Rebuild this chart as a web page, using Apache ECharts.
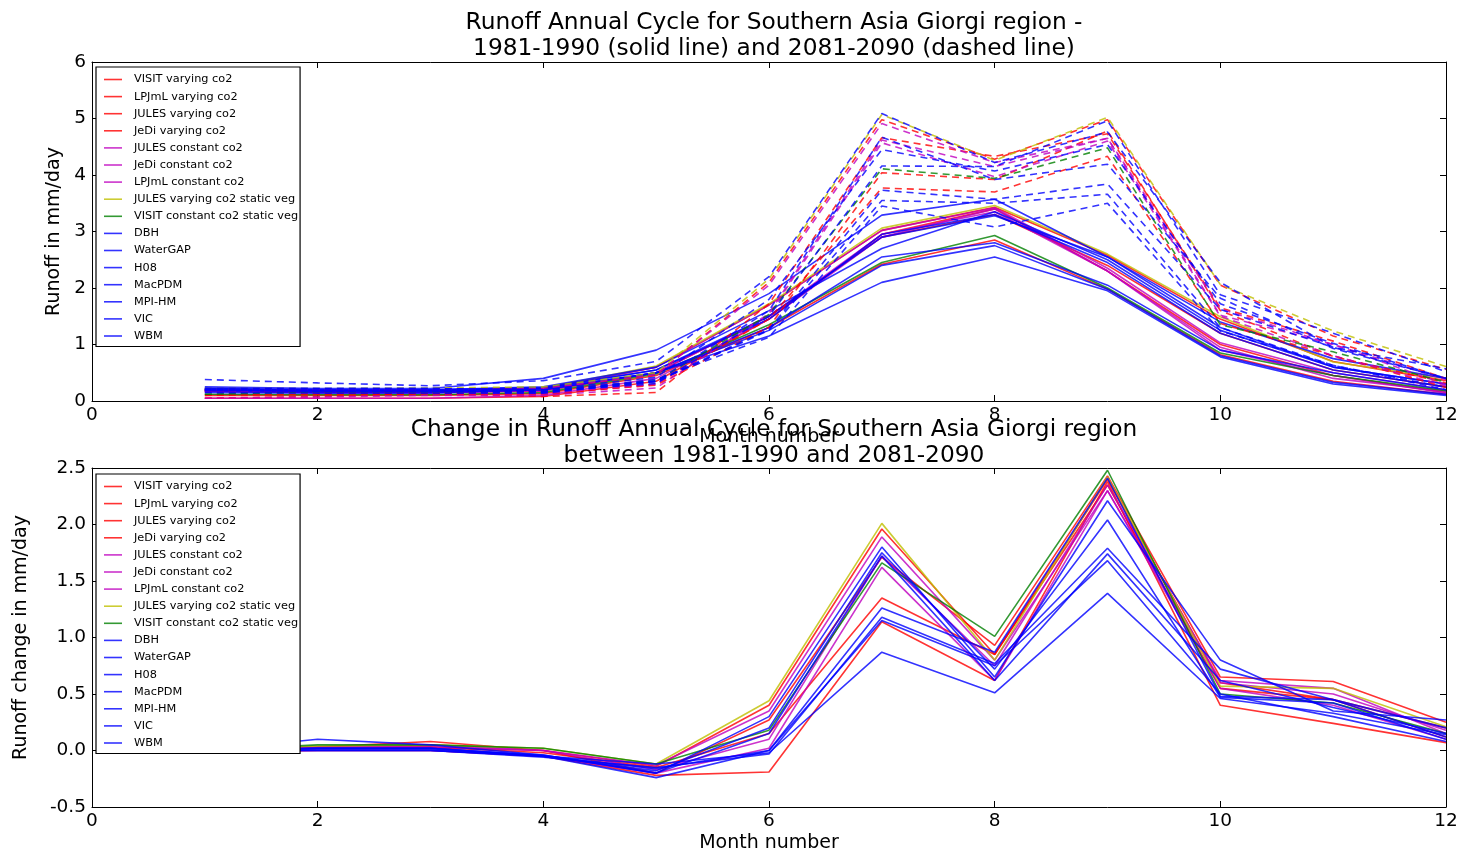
<!DOCTYPE html>
<html><head><meta charset="utf-8">
<script src="https://cdn.jsdelivr.net/npm/echarts@6/dist/echarts.min.js"></script>
<style>html,body{margin:0;padding:0;background:#fff}#c{width:1467px;height:854px}</style>
</head><body><div id="c"></div>
<script>
const months = [1,2,3,4,5,6,7,8,9,10,11,12];
const names = ["VISIT varying co2","LPJmL varying co2","JULES varying co2","JeDi varying co2",
  "JULES constant co2","JeDi constant co2","LPJmL constant co2","JULES varying co2 static veg",
  "VISIT constant co2 static veg","DBH","WaterGAP","H08","MacPDM","MPI-HM","VIC","WBM"];
const colors = ["#ff0000","#ff0000","#ff0000","#ff0000","#bf00bf","#bf00bf","#bf00bf","#bfbf00","#008000",
  "#0000ff","#0000ff","#0000ff","#0000ff","#0000ff","#0000ff","#0000ff"];
const xTicks = [0,2,4,6,8,10,12];
const yTicksTop = [0,1,2,3,4,5,6];
const yTicksBottom = [-0.5,0.0,0.5,1.0,1.5,2.0,2.5];

// 1981-1990 runoff (mm/day), solid lines
const past = [
  [0.10,0.10,0.10,0.13,0.45,1.30,2.42,2.85,1.98,0.82,0.35,0.12],
  [0.05,0.05,0.05,0.08,0.35,1.45,2.95,3.40,2.30,1.00,0.45,0.15],
  [0.20,0.17,0.17,0.22,0.60,1.70,3.02,3.43,2.58,1.45,0.70,0.36],
  [0.18,0.15,0.15,0.18,0.50,1.50,2.90,3.30,2.40,1.20,0.55,0.25],
  [0.20,0.17,0.17,0.22,0.60,1.70,3.02,3.42,2.35,1.03,0.50,0.20],
  [0.18,0.15,0.15,0.18,0.50,1.50,2.95,3.35,2.30,0.95,0.40,0.17],
  [0.05,0.05,0.05,0.10,0.40,1.45,2.90,3.40,2.30,0.90,0.45,0.14],
  [0.22,0.18,0.18,0.23,0.62,1.72,3.06,3.46,2.60,1.49,0.69,0.40],
  [0.12,0.11,0.11,0.15,0.48,1.35,2.45,2.93,2.00,0.85,0.45,0.18],
  [0.25,0.22,0.22,0.40,0.90,1.90,3.29,3.57,2.55,1.30,0.60,0.30],
  [0.20,0.18,0.18,0.22,0.55,1.50,2.90,3.28,2.55,1.40,0.75,0.40],
  [0.22,0.20,0.20,0.25,0.60,1.60,2.70,3.35,2.50,1.25,0.60,0.30],
  [0.15,0.14,0.14,0.20,0.50,1.30,2.55,2.80,2.05,0.90,0.50,0.20],
  [0.18,0.16,0.16,0.20,0.50,1.25,2.40,2.75,1.98,0.80,0.33,0.12],
  [0.20,0.18,0.18,0.22,0.50,1.15,2.10,2.55,1.95,0.78,0.30,0.10],
  [0.22,0.20,0.20,0.24,0.55,1.45,2.95,3.30,2.45,1.20,0.55,0.25]
];
// 2081-2090 runoff (mm/day), dashed lines
const future = [
  [0.10,0.12,0.13,0.11,0.30,1.45,3.77,3.70,4.33,1.37,0.80,0.24],
  [0.05,0.08,0.13,0.08,0.15,1.72,4.66,4.33,4.73,1.65,1.06,0.40],
  [0.20,0.20,0.20,0.22,0.46,2.10,4.98,4.28,4.98,2.05,1.15,0.56],
  [0.17,0.15,0.15,0.13,0.28,1.31,4.04,3.92,4.78,1.60,0.79,0.32],
  [0.20,0.20,0.20,0.22,0.47,2.05,4.91,4.22,4.65,1.63,1.00,0.38],
  [0.17,0.15,0.15,0.13,0.30,1.52,4.57,3.97,4.60,1.50,0.80,0.27],
  [0.05,0.07,0.10,0.10,0.23,1.55,4.62,4.15,4.65,1.52,1.00,0.29],
  [0.22,0.22,0.23,0.25,0.50,2.16,5.07,4.26,5.02,2.06,1.24,0.61],
  [0.12,0.16,0.16,0.17,0.36,1.53,4.11,3.94,4.48,1.35,0.87,0.33],
  [0.38,0.32,0.27,0.36,0.70,2.20,5.09,4.22,4.76,2.10,0.95,0.57],
  [0.20,0.20,0.20,0.17,0.31,1.50,4.16,4.15,4.96,1.88,1.20,0.52],
  [0.22,0.22,0.22,0.20,0.42,1.80,4.45,4.07,4.54,1.72,1.02,0.40],
  [0.15,0.14,0.14,0.14,0.35,1.27,3.73,3.57,3.84,1.62,0.95,0.40],
  [0.18,0.17,0.17,0.15,0.34,1.25,3.55,3.50,3.66,1.30,0.63,0.20],
  [0.20,0.18,0.18,0.17,0.38,1.13,3.45,3.08,3.50,1.24,0.63,0.24],
  [0.22,0.22,0.22,0.20,0.35,1.60,4.67,3.92,4.19,1.82,0.93,0.40]
];
// change 2081-2090 minus 1981-1990 (mm/day)
const change = [
  [0.00,0.02,0.03,-0.02,-0.15,0.15,1.35,0.85,2.35,0.55,0.45,0.12],
  [0.00,0.03,0.08,0.00,-0.20,0.27,1.71,0.93,2.43,0.65,0.61,0.25],
  [0.00,0.03,0.03,0.00,-0.14,0.40,1.96,0.85,2.40,0.60,0.45,0.20],
  [-0.01,0.00,0.00,-0.05,-0.22,-0.19,1.14,0.62,2.38,0.40,0.24,0.07],
  [0.00,0.03,0.03,0.00,-0.13,0.35,1.89,0.80,2.30,0.60,0.50,0.18],
  [-0.01,0.00,0.00,-0.05,-0.20,0.02,1.62,0.62,2.30,0.55,0.40,0.10],
  [0.00,0.02,0.05,0.00,-0.17,0.10,1.72,0.75,2.35,0.62,0.55,0.15],
  [0.00,0.04,0.05,0.02,-0.12,0.44,2.01,0.80,2.42,0.57,0.55,0.21],
  [0.00,0.05,0.05,0.02,-0.12,0.18,1.66,1.01,2.48,0.50,0.42,0.15],
  [0.00,0.10,0.05,-0.04,-0.20,0.30,1.80,0.65,2.21,0.80,0.35,0.27],
  [0.00,0.02,0.02,-0.05,-0.24,0.00,1.26,0.87,2.41,0.48,0.45,0.12],
  [0.00,0.02,0.02,-0.05,-0.18,0.20,1.75,0.72,2.04,0.47,0.42,0.10],
  [0.00,0.00,0.00,-0.06,-0.15,-0.03,1.18,0.77,1.79,0.72,0.45,0.20],
  [0.00,0.01,0.01,-0.05,-0.16,0.00,1.15,0.75,1.68,0.50,0.30,0.08],
  [0.00,0.00,0.00,-0.05,-0.12,-0.02,0.87,0.51,1.39,0.46,0.33,0.14],
  [0.00,0.02,0.02,-0.04,-0.20,0.15,1.72,0.62,1.74,0.62,0.38,0.15]
];

const FONT = "DejaVu Sans";
const chart = echarts.init(document.getElementById('c'), null, {renderer:'canvas'});

function xAx(gi, pos, labels, name){
  return {type:'value', gridIndex:gi, position:pos, min:xTicks[0], max:xTicks[xTicks.length-1], interval:2,
    axisLine:{show:true,onZero:false,lineStyle:{color:'#000',width:1}},
    axisTick:{show:true,inside:true,length:6,lineStyle:{color:'#000'}},
    axisLabel:{show:labels,color:'#000',fontFamily:FONT,fontSize:18.5,margin:5},
    splitLine:{show:false}, name: name||'', nameLocation:'middle', nameGap:27,
    nameTextStyle:{color:'#000',fontFamily:FONT,fontSize:19}};
}
function yAx(gi, pos, ticks, labels, name, gap, fmt){
  return {type:'value', gridIndex:gi, position:pos, min:ticks[0], max:ticks[ticks.length-1], interval:ticks[1]-ticks[0],
    axisLine:{show:true,onZero:false,lineStyle:{color:'#000',width:1}},
    axisTick:{show:true,inside:true,length:6,lineStyle:{color:'#000'}},
    axisLabel:{show:labels,color:'#000',fontFamily:FONT,fontSize:18.5,margin:6,formatter:fmt},
    splitLine:{show:false}, name:name||'', nameLocation:'middle', nameGap:gap||0,
    nameTextStyle:{color:'#000',fontFamily:FONT,fontSize:19}};
}

const series = [];
names.forEach((n,i)=>{
  series.push({name:n,type:'line',xAxisIndex:0,yAxisIndex:0,symbol:'none',z:2,
    data:months.map((m,k)=>[m,past[i][k]]),
    lineStyle:{color:colors[i],width:1.6,opacity:0.8,type:'solid'},itemStyle:{color:colors[i]}});
});
names.forEach((n,i)=>{
  series.push({name:n,type:'line',xAxisIndex:0,yAxisIndex:0,symbol:'none',z:2,
    data:months.map((m,k)=>[m,future[i][k]]),
    lineStyle:{color:colors[i],width:1.6,opacity:0.8,type:[7,5]},itemStyle:{color:colors[i]}});
});
names.forEach((n,i)=>{
  series.push({name:n,type:'line',xAxisIndex:2,yAxisIndex:2,symbol:'none',z:2,
    data:months.map((m,k)=>[m,change[i][k]]),
    lineStyle:{color:colors[i],width:1.6,opacity:0.8,type:'solid'},itemStyle:{color:colors[i]}});
});

function legend(top){
  return {show:true, data:names.map((n,i)=>({name:n, itemStyle:{color:colors[i],opacity:0.8}})),
    orient:'vertical', left:96, top:top, selectedMode:false,
    icon:'rect', backgroundColor:'#fff', borderColor:'#000', borderWidth:1.2, padding:[7,2,5,8],
    itemWidth:18, itemHeight:1.6, itemGap:6.1, z:10,
    textStyle:{color:'#000',fontFamily:FONT,fontSize:11.3,lineHeight:11,padding:[0,0,0,7]}};
}

chart.setOption({
  animation:false,
  backgroundColor:'#fff',
  title:[
    {text:'Runoff Annual Cycle for Southern Asia Giorgi region -\n1981-1990 (solid line) and 2081-2090 (dashed line)',
     left:769, top:5, textAlign:'center',
     textStyle:{fontFamily:FONT,fontSize:23.3,fontWeight:'normal',color:'#000',lineHeight:26}},
    {text:'Change in Runoff Annual Cycle for Southern Asia Giorgi region\nbetween 1981-1990 and 2081-2090',
     left:769, top:412, textAlign:'center',
     textStyle:{fontFamily:FONT,fontSize:23.3,fontWeight:'normal',color:'#000',lineHeight:26}}
  ],
  legend:[legend(67), legend(474)],
  grid:[
    {left:92, right:21, top:62, height:339, show:false},
    {left:92, right:21, top:468, height:339, show:false}
  ],
  xAxis:[
    xAx(0,'bottom',true,'Month number'),
    xAx(0,'top',false),
    xAx(1,'bottom',true,'Month number'),
    xAx(1,'top',false)
  ],
  yAxis:[
    yAx(0,'left',yTicksTop,true,'Runoff in mm/day',21),
    yAx(0,'right',yTicksTop,false),
    yAx(1,'left',yTicksBottom,true,'Runoff change in mm/day',61,v=>v.toFixed(1)),
    yAx(1,'right',yTicksBottom,false)
  ],
  series:series
});
</script></body></html>
